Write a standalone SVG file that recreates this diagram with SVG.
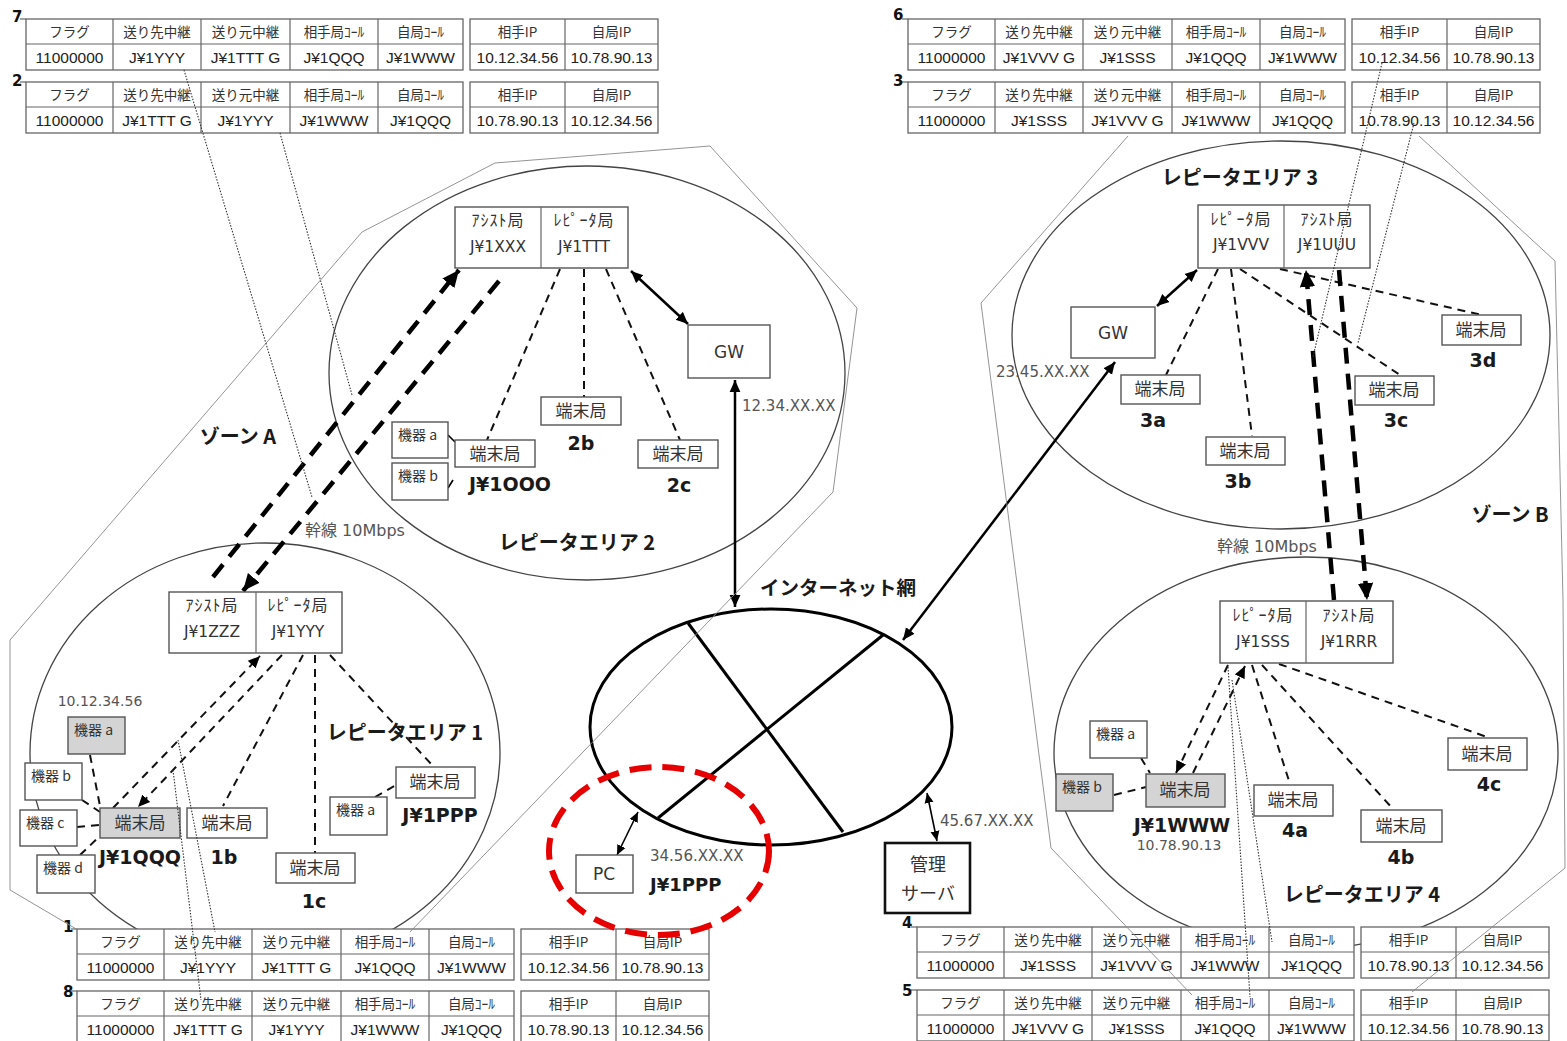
<svg xmlns="http://www.w3.org/2000/svg" width="1567" height="1041" viewBox="0 0 1567 1041">
<style>
text{font-family:'Noto Sans CJK JP',sans-serif;fill:#333}
.hd{font-size:13.5px;fill:#333;text-anchor:middle}
.dt{font-family:'Liberation Sans','Noto Sans CJK JP',sans-serif;font-size:15.5px;fill:#222;text-anchor:middle}
.tb{fill:#fff;stroke:#666;stroke-width:1.3}
.tl{stroke:#666;stroke-width:1.2}
.num{font-family:'DejaVu Sans',sans-serif;font-weight:bold;font-size:15px;fill:#111}
.box{fill:#fff;stroke:#555;stroke-width:1.4}
.gbox{fill:#d4d4d4;stroke:#555;stroke-width:1.4}
.bx{font-size:17px;text-anchor:middle}
.kk{font-family:'Noto Sans CJK JP',sans-serif;font-size:14px}
.rp{font-size:16px;text-anchor:middle;letter-spacing:1px}
.rpl{font-family:'DejaVu Sans',sans-serif;font-size:15.5px;text-anchor:middle}
.lat{font-family:'DejaVu Sans',sans-serif;font-size:17px;text-anchor:middle}
.lab{font-family:'DejaVu Sans','Noto Sans CJK JP',sans-serif;font-weight:bold;font-size:19px;fill:#1a1a1a;text-anchor:middle}
.ttl{font-weight:bold;font-size:20px;fill:#1a1a1a;text-anchor:middle}
.ip{font-family:'DejaVu Sans',sans-serif;font-size:15px;fill:#555}
.kan{font-family:'DejaVu Sans','Noto Sans CJK JP',sans-serif;font-size:16px;fill:#555}
.area{fill:none;stroke:#444;stroke-width:1.3}
.zone{fill:none;stroke:#888;stroke-width:0.9}
.dot{fill:none;stroke:#333;stroke-width:1.1;stroke-dasharray:1.5 1.5}
.dl{fill:none;stroke:#111;stroke-width:2;stroke-dasharray:8 6}
.bb{fill:none;stroke:#000;stroke-width:4.5;stroke-dasharray:16 10}
.sl{fill:none;stroke:#000;stroke-width:2.5}
.ss{fill:none;stroke:#000;stroke-width:1.6}
</style>
<defs>
<marker id="arr" viewBox="0 0 10 10" refX="10" refY="5" markerWidth="12" markerHeight="12" markerUnits="userSpaceOnUse" orient="auto-start-reverse"><path d="M0,0.5 L10,5 L0,9.5 z" fill="#000" stroke="none"/></marker>
<marker id="arrL" viewBox="0 0 10 10" refX="10" refY="5" markerWidth="17" markerHeight="17" markerUnits="userSpaceOnUse" orient="auto-start-reverse"><path d="M0,0.5 L10,5 L0,9.5 z" fill="#000" stroke="none"/></marker>
<marker id="arrS" viewBox="0 0 10 10" refX="10" refY="5" markerWidth="10" markerHeight="10" markerUnits="userSpaceOnUse" orient="auto-start-reverse"><path d="M0,0.5 L10,5 L0,9.5 z" fill="#000" stroke="none"/></marker>
<g id="tf">
<rect class="tb" x="0" y="0" width="437" height="51"/>
<line class="tl" x1="0" y1="25" x2="437" y2="25"/>
<line class="tl" x1="87" y1="0" x2="87" y2="51"/>
<line class="tl" x1="175" y1="0" x2="175" y2="51"/>
<line class="tl" x1="264" y1="0" x2="264" y2="51"/>
<line class="tl" x1="352" y1="0" x2="352" y2="51"/>
<rect class="tb" x="444" y="0" width="188" height="51"/>
<line class="tl" x1="444" y1="25" x2="632" y2="25"/>
<line class="tl" x1="539" y1="0" x2="539" y2="51"/>
<text class="hd" x="43.5" y="17.5">フラグ</text>
<text class="hd" x="131" y="17.5">送り先中継</text>
<text class="hd" x="219.5" y="17.5">送り元中継</text>
<text class="hd" x="308" y="17.5">相手局ｺｰﾙ</text>
<text class="hd" x="394.5" y="17.5">自局ｺｰﾙ</text>
<text class="hd" x="491.5" y="17.5">相手IP</text>
<text class="hd" x="585.5" y="17.5">自局IP</text>
</g>
</defs>
<rect width="1567" height="1041" fill="#fff"/>

<!-- area ellipses -->
<g id="areas">
<ellipse id="area1" class="area" cx="265" cy="753" rx="235" ry="210"/>
<ellipse id="area2" class="area" cx="587" cy="373" rx="258" ry="207"/>
<ellipse id="area3" class="area" cx="1281" cy="335" rx="269" ry="194"/>
<ellipse id="area4" class="area" cx="1306" cy="753" rx="252" ry="196"/>
</g>

<!-- tables -->
<g id="table7"><use href="#tf" x="26" y="19"/><line class="tl" x1="20" y1="19" x2="26" y2="19"/><text class="num" x="12" y="22">7</text>
<g transform="translate(26,19)"><text class="dt" x="43.5" y="43.5">11000000</text><text class="dt" x="131" y="43.5">J¥1YYY</text><text class="dt" x="219.5" y="43.5">J¥1TTT G</text><text class="dt" x="308" y="43.5">J¥1QQQ</text><text class="dt" x="394.5" y="43.5">J¥1WWW</text><text class="dt" x="491.5" y="43.5">10.12.34.56</text><text class="dt" x="585.5" y="43.5">10.78.90.13</text></g></g>
<g id="table2"><use href="#tf" x="26" y="82"/><line class="tl" x1="20" y1="82" x2="26" y2="82"/><text class="num" x="12" y="86">2</text>
<g transform="translate(26,82)"><text class="dt" x="43.5" y="43.5">11000000</text><text class="dt" x="131" y="43.5">J¥1TTT G</text><text class="dt" x="219.5" y="43.5">J¥1YYY</text><text class="dt" x="308" y="43.5">J¥1WWW</text><text class="dt" x="394.5" y="43.5">J¥1QQQ</text><text class="dt" x="491.5" y="43.5">10.78.90.13</text><text class="dt" x="585.5" y="43.5">10.12.34.56</text></g></g>
<g id="table6"><use href="#tf" x="908" y="19"/><line class="tl" x1="902" y1="19" x2="908" y2="19"/><text class="num" x="893" y="20">6</text>
<g transform="translate(908,19)"><text class="dt" x="43.5" y="43.5">11000000</text><text class="dt" x="131" y="43.5">J¥1VVV G</text><text class="dt" x="219.5" y="43.5">J¥1SSS</text><text class="dt" x="308" y="43.5">J¥1QQQ</text><text class="dt" x="394.5" y="43.5">J¥1WWW</text><text class="dt" x="491.5" y="43.5">10.12.34.56</text><text class="dt" x="585.5" y="43.5">10.78.90.13</text></g></g>
<g id="table3"><use href="#tf" x="908" y="82"/><line class="tl" x1="902" y1="82" x2="908" y2="82"/><text class="num" x="893" y="86">3</text>
<g transform="translate(908,82)"><text class="dt" x="43.5" y="43.5">11000000</text><text class="dt" x="131" y="43.5">J¥1SSS</text><text class="dt" x="219.5" y="43.5">J¥1VVV G</text><text class="dt" x="308" y="43.5">J¥1WWW</text><text class="dt" x="394.5" y="43.5">J¥1QQQ</text><text class="dt" x="491.5" y="43.5">10.78.90.13</text><text class="dt" x="585.5" y="43.5">10.12.34.56</text></g></g>
<g id="table1"><use href="#tf" x="77" y="929"/><line class="tl" x1="71" y1="929" x2="77" y2="929"/><text class="num" x="63" y="932">1</text>
<g transform="translate(77,929)"><text class="dt" x="43.5" y="43.5">11000000</text><text class="dt" x="131" y="43.5">J¥1YYY</text><text class="dt" x="219.5" y="43.5">J¥1TTT G</text><text class="dt" x="308" y="43.5">J¥1QQQ</text><text class="dt" x="394.5" y="43.5">J¥1WWW</text><text class="dt" x="491.5" y="43.5">10.12.34.56</text><text class="dt" x="585.5" y="43.5">10.78.90.13</text></g></g>
<g id="table8"><use href="#tf" x="77" y="991"/><line class="tl" x1="71" y1="991" x2="77" y2="991"/><text class="num" x="63" y="997">8</text>
<g transform="translate(77,991)"><text class="dt" x="43.5" y="43.5">11000000</text><text class="dt" x="131" y="43.5">J¥1TTT G</text><text class="dt" x="219.5" y="43.5">J¥1YYY</text><text class="dt" x="308" y="43.5">J¥1WWW</text><text class="dt" x="394.5" y="43.5">J¥1QQQ</text><text class="dt" x="491.5" y="43.5">10.78.90.13</text><text class="dt" x="585.5" y="43.5">10.12.34.56</text></g></g>
<g id="table4"><use href="#tf" x="917" y="927"/><line class="tl" x1="911" y1="927" x2="917" y2="927"/><text class="num" x="902" y="928">4</text>
<g transform="translate(917,927)"><text class="dt" x="43.5" y="43.5">11000000</text><text class="dt" x="131" y="43.5">J¥1SSS</text><text class="dt" x="219.5" y="43.5">J¥1VVV G</text><text class="dt" x="308" y="43.5">J¥1WWW</text><text class="dt" x="394.5" y="43.5">J¥1QQQ</text><text class="dt" x="491.5" y="43.5">10.78.90.13</text><text class="dt" x="585.5" y="43.5">10.12.34.56</text></g></g>
<g id="table5"><use href="#tf" x="917" y="990"/><line class="tl" x1="911" y1="990" x2="917" y2="990"/><text class="num" x="902" y="996">5</text>
<g transform="translate(917,990)"><text class="dt" x="43.5" y="43.5">11000000</text><text class="dt" x="131" y="43.5">J¥1VVV G</text><text class="dt" x="219.5" y="43.5">J¥1SSS</text><text class="dt" x="308" y="43.5">J¥1QQQ</text><text class="dt" x="394.5" y="43.5">J¥1WWW</text><text class="dt" x="491.5" y="43.5">10.12.34.56</text><text class="dt" x="585.5" y="43.5">10.78.90.13</text></g></g>

<!-- internet -->
<g id="internet">
<ellipse cx="771" cy="727" rx="181" ry="118" fill="none" stroke="#000" stroke-width="3"/>
<line x1="688" y1="623" x2="843" y2="832" stroke="#000" stroke-width="3"/>
<line x1="883" y1="635" x2="658" y2="818" stroke="#000" stroke-width="3"/>
<text class="ttl" x="838" y="595" style="font-size:19.5px">インターネット網</text>
</g>
<ellipse id="highlight" cx="659" cy="851" rx="110" ry="84" fill="none" stroke="#e60000" stroke-width="6" stroke-dasharray="22 11"/>

<!-- connectors -->
<g id="connectors">
<!-- area 2 -->
<line class="dl" x1="560" y1="269" x2="487" y2="440"/>
<line class="dl" x1="584" y1="269" x2="584" y2="397"/>
<line class="dl" x1="606" y1="269" x2="680" y2="440"/>
<line class="ss" x1="448" y1="435" x2="455" y2="442"/>
<line class="ss" x1="448" y1="488" x2="453" y2="480"/>
<line class="sl" x1="631" y1="271" x2="688" y2="324" marker-start="url(#arr)" marker-end="url(#arr)"/>
<line class="sl" x1="735" y1="380" x2="735" y2="607" marker-start="url(#arr)" marker-end="url(#arr)"/>
<!-- backbone A -->
<line class="bb" x1="213" y1="577" x2="459" y2="270" marker-end="url(#arrL)"/>
<line class="bb" x1="499" y1="281" x2="243" y2="591" marker-end="url(#arrL)"/>
<!-- area 1 -->
<line class="dl" x1="113" y1="808" x2="260" y2="656" marker-end="url(#arr)"/>
<line class="dl" x1="282" y1="655" x2="138" y2="807" marker-end="url(#arr)"/>
<line class="dl" x1="303" y1="655" x2="223" y2="806"/>
<line class="dl" x1="315" y1="655" x2="315" y2="853"/>
<line class="dl" x1="330" y1="655" x2="433" y2="766"/>
<line class="dl" x1="90" y1="755" x2="100" y2="806"/>
<line class="dl" x1="82" y1="800" x2="100" y2="812"/>
<line class="dl" x1="77" y1="827" x2="100" y2="825"/>
<line class="dl" x1="80" y1="855" x2="100" y2="836"/>
<line class="dl" x1="375" y1="797" x2="396" y2="785"/>
<!-- area 3 -->
<line class="dl" x1="1218" y1="269" x2="1166" y2="375"/>
<line class="dl" x1="1231" y1="269" x2="1252" y2="436"/>
<line class="dl" x1="1240" y1="269" x2="1400" y2="375"/>
<line class="dl" x1="1280" y1="269" x2="1482" y2="315"/>
<line class="sl" x1="1157" y1="306" x2="1197" y2="270" marker-start="url(#arr)" marker-end="url(#arr)"/>
<line class="sl" x1="903" y1="640" x2="1115" y2="362" marker-start="url(#arr)" marker-end="url(#arr)"/>
<!-- backbone B -->
<line class="bb" x1="1334" y1="600" x2="1306" y2="270" marker-end="url(#arrL)"/>
<line class="bb" x1="1339" y1="270" x2="1367" y2="600" marker-end="url(#arrL)"/>
<!-- area 4 -->
<line class="dl" x1="1193" y1="773" x2="1245" y2="666" marker-end="url(#arr)"/>
<line class="dl" x1="1228" y1="665" x2="1176" y2="773" marker-end="url(#arr)"/>
<line class="dl" x1="1252" y1="665" x2="1290" y2="784"/>
<line class="dl" x1="1262" y1="665" x2="1393" y2="809"/>
<line class="dl" x1="1279" y1="664" x2="1487" y2="737"/>
<line class="dl" x1="1141" y1="758" x2="1150" y2="773"/>
<line class="dl" x1="1114" y1="795" x2="1146" y2="787"/>
<!-- PC / server -->
<line class="ss" x1="617" y1="855" x2="638" y2="812" marker-start="url(#arrS)" marker-end="url(#arrS)"/>
<line class="ss" x1="927" y1="793" x2="937" y2="841" marker-start="url(#arrS)" marker-end="url(#arrS)"/>
</g>

<!-- area 2 nodes -->
<g id="rep2"><rect class="box" x="455" y="207" width="173" height="61"/><line class="tl" x1="541" y1="207" x2="541" y2="268"/>
<text class="rp" x="498" y="226">ｱｼｽﾄ局</text><text class="rpl" x="498" y="252">J¥1XXX</text>
<text class="rp" x="584" y="226">ﾚﾋﾟｰﾀ局</text><text class="rpl" x="584" y="252">J¥1TTT</text></g>
<g id="gw2"><rect class="box" x="688" y="325" width="82" height="53"/><text class="lat" x="729" y="358">GW</text></g>
<g id="t2a"><rect class="box" x="455" y="440" width="80" height="27"/><text class="bx" x="495" y="460">端末局</text><text class="lab" x="510" y="491">J¥1OOO</text></g>
<g id="k2a"><rect class="box" x="392" y="422" width="56" height="36"/><text class="kk" x="398" y="440">機器 a</text></g>
<g id="k2b"><rect class="box" x="392" y="463" width="56" height="37"/><text class="kk" x="398" y="481">機器 b</text></g>
<g id="t2b"><rect class="box" x="541" y="397" width="80" height="28"/><text class="bx" x="581" y="417">端末局</text><text class="lab" x="581" y="450">2b</text></g>
<g id="t2c"><rect class="box" x="638" y="440" width="80" height="28"/><text class="bx" x="678" y="460">端末局</text><text class="lab" x="679" y="492">2c</text></g>
<text class="ttl" x="577" y="550">レピータエリア 2</text>
<text class="ip" x="742" y="411">12.34.XX.XX</text>

<!-- area 1 nodes -->
<g id="rep1"><rect class="box" x="169" y="592" width="173" height="61"/><line class="tl" x1="256" y1="592" x2="256" y2="653"/>
<text class="rp" x="212" y="611">ｱｼｽﾄ局</text><text class="rpl" x="212" y="637">J¥1ZZZ</text>
<text class="rp" x="298" y="611">ﾚﾋﾟｰﾀ局</text><text class="rpl" x="298" y="637">J¥1YYY</text></g>
<g id="t1q"><rect class="gbox" x="100" y="808" width="80" height="30"/><text class="bx" x="140" y="829">端末局</text><text class="lab" x="140" y="864">J¥1QQQ</text></g>
<g id="t1b"><rect class="box" x="187" y="808" width="80" height="30"/><text class="bx" x="227" y="829">端末局</text><text class="lab" x="224" y="864">1b</text></g>
<g id="t1c"><rect class="box" x="276" y="853" width="79" height="30"/><text class="bx" x="315" y="874">端末局</text><text class="lab" x="314" y="908">1c</text></g>
<g id="t1p"><rect class="box" x="396" y="767" width="79" height="31"/><text class="bx" x="435" y="788">端末局</text><text class="lab" x="440" y="822">J¥1PPP</text></g>
<g id="k1a"><rect class="gbox" x="68" y="717" width="57" height="37"/><text class="kk" x="74" y="735">機器 a</text></g>
<g id="k1b"><rect class="box" x="25" y="763" width="57" height="37"/><text class="kk" x="31" y="781">機器 b</text></g>
<g id="k1c"><rect class="box" x="20" y="810" width="57" height="36"/><text class="kk" x="26" y="828">機器 c</text></g>
<g id="k1d"><rect class="box" x="37" y="855" width="58" height="38"/><text class="kk" x="43" y="873">機器 d</text></g>
<g id="k1e"><rect class="box" x="330" y="797" width="57" height="38"/><text class="kk" x="336" y="815">機器 a</text></g>
<text class="ip" x="100" y="706" style="font-size:14px;text-anchor:middle">10.12.34.56</text>
<text class="ttl" x="405" y="740">レピータエリア 1</text>
<text class="ttl" x="238" y="444">ゾーン A</text>
<text class="kan" x="305" y="536">幹線 10Mbps</text>

<!-- area 3 nodes -->
<g id="rep3"><rect class="box" x="1198" y="205" width="172" height="63"/><line class="tl" x1="1284" y1="205" x2="1284" y2="268"/>
<text class="rp" x="1241" y="225">ﾚﾋﾟｰﾀ局</text><text class="rpl" x="1241" y="250">J¥1VVV</text>
<text class="rp" x="1327" y="225">ｱｼｽﾄ局</text><text class="rpl" x="1327" y="250">J¥1UUU</text></g>
<g id="gw3"><rect class="box" x="1071" y="307" width="84" height="51"/><text class="lat" x="1113" y="339">GW</text></g>
<text class="ip" x="996" y="377">23.45.XX.XX</text>
<g id="t3a"><rect class="box" x="1121" y="375" width="79" height="29"/><text class="bx" x="1160" y="395">端末局</text><text class="lab" x="1153" y="427">3a</text></g>
<g id="t3b"><rect class="box" x="1206" y="437" width="79" height="28"/><text class="bx" x="1245" y="457">端末局</text><text class="lab" x="1238" y="488">3b</text></g>
<g id="t3c"><rect class="box" x="1355" y="376" width="79" height="29"/><text class="bx" x="1394" y="396">端末局</text><text class="lab" x="1396" y="427">3c</text></g>
<g id="t3d"><rect class="box" x="1442" y="315" width="79" height="30"/><text class="bx" x="1481" y="336">端末局</text><text class="lab" x="1483" y="367">3d</text></g>
<text class="ttl" x="1240" y="185">レピータエリア 3</text>
<text class="ttl" x="1510" y="522">ゾーン B</text>
<text class="kan" x="1217" y="552">幹線 10Mbps</text>

<!-- area 4 nodes -->
<g id="rep4"><rect class="box" x="1220" y="601" width="173" height="62"/><line class="tl" x1="1306" y1="601" x2="1306" y2="663"/>
<text class="rp" x="1263" y="621">ﾚﾋﾟｰﾀ局</text><text class="rpl" x="1263" y="647">J¥1SSS</text>
<text class="rp" x="1349" y="621">ｱｼｽﾄ局</text><text class="rpl" x="1349" y="647">J¥1RRR</text></g>
<g id="t4w"><rect class="gbox" x="1146" y="774" width="79" height="33"/><text class="bx" x="1185" y="796">端末局</text><text class="lab" x="1182" y="832">J¥1WWW</text></g>
<text class="ip" x="1179" y="850" style="font-size:14px;text-anchor:middle">10.78.90.13</text>
<g id="k4a"><rect class="box" x="1090" y="721" width="57" height="37"/><text class="kk" x="1096" y="739">機器 a</text></g>
<g id="k4b"><rect class="gbox" x="1056" y="774" width="57" height="37"/><text class="kk" x="1062" y="792">機器 b</text></g>
<g id="t4a"><rect class="box" x="1254" y="785" width="79" height="31"/><text class="bx" x="1293" y="806">端末局</text><text class="lab" x="1295" y="837">4a</text></g>
<g id="t4b"><rect class="box" x="1361" y="810" width="81" height="32"/><text class="bx" x="1401" y="832">端末局</text><text class="lab" x="1401" y="864">4b</text></g>
<g id="t4c"><rect class="box" x="1448" y="738" width="79" height="32"/><text class="bx" x="1487" y="760">端末局</text><text class="lab" x="1489" y="791">4c</text></g>
<text class="ttl" x="1362" y="902">レピータエリア 4</text>

<!-- PC / server -->
<g id="pc"><rect class="box" x="576" y="855" width="57" height="38"/><text class="lat" x="604" y="880">PC</text></g>
<text class="ip" x="650" y="861">34.56.XX.XX</text>
<text class="lab" x="650" y="891" style="text-anchor:start;font-size:18px">J¥1PPP</text>
<g id="server"><rect x="885" y="843" width="85" height="70" fill="#fff" stroke="#111" stroke-width="2.6"/><text class="bx" x="928" y="871" style="font-size:18px">管理</text><text class="bx" x="928" y="900" style="font-size:18px">サーバ</text></g>
<text class="ip" x="940" y="826">45.67.XX.XX</text>

<!-- zones and leader lines -->
<g id="zones">
<polyline class="zone" points="78,930 10,890 10,640 362,232 495,163 710,146 857,308 833,492 410,932"/>
<polyline class="zone" points="1192,995 1051,848 981,303 1128,136"/>
<polyline class="zone" points="1419,136 1555,261 1563,600 1565,868 1412,992"/>
</g>
<g id="leaders">
<line class="dot" x1="184" y1="70" x2="312" y2="497"/>
<line class="dot" x1="280" y1="133" x2="352" y2="395"/>
<line class="dot" x1="1382" y1="63" x2="1313" y2="357"/>
<line class="dot" x1="1414" y1="123" x2="1358" y2="343"/>
<line class="dot" x1="178" y1="740" x2="215" y2="932"/>
<line class="dot" x1="173" y1="770" x2="201" y2="1000"/>
<line class="dot" x1="1228" y1="667" x2="1250" y2="997"/>
<line class="dot" x1="1232" y1="680" x2="1272" y2="942"/>
</g>
</svg>
